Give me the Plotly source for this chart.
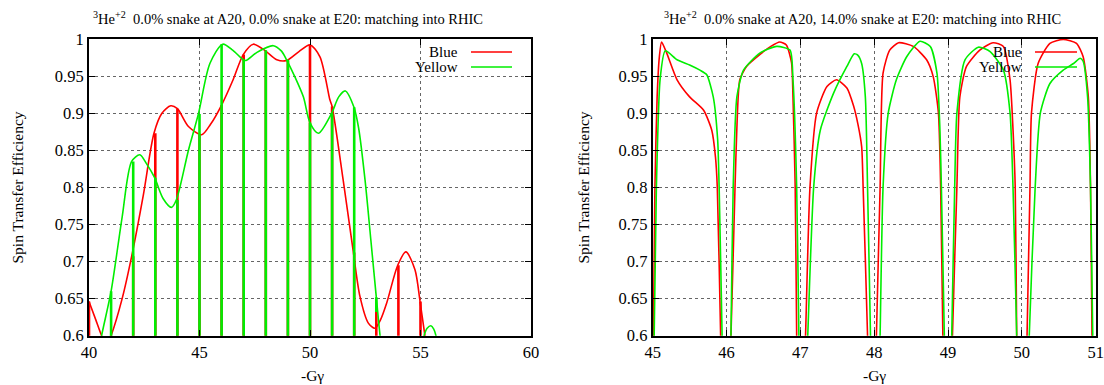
import plotly.graph_objects as go

W, H = 1104, 385

# ---------------- data: left panel (0.0% / 0.0%) ----------------
left_blue_x = [40.0, 40.3, 40.57, 40.8, 41.0, 41.5, 41.93, 42.46, 42.94, 43.3, 43.7, 44.0, 44.5, 45.1,
               45.5, 46.0, 46.52, 46.98, 47.43, 47.98, 48.5, 48.94, 49.5, 50.0, 50.45, 50.9, 51.0,
               51.5, 51.95, 52.26, 52.64, 52.94, 53.2, 53.47, 53.97, 54.34, 54.75, 54.98, 55.2, 55.3]
left_blue_y = [0.646, 0.622, 0.600, 0.586, 0.600, 0.650, 0.707, 0.790, 0.873, 0.900, 0.910, 0.906, 0.882, 0.871,
               0.885, 0.911, 0.945, 0.979, 0.993, 0.984, 0.972, 0.971, 0.983, 0.992, 0.976, 0.918, 0.909,
               0.810, 0.715, 0.653, 0.617, 0.610, 0.622, 0.644, 0.695, 0.713, 0.689, 0.646, 0.600, 0.580]
left_blue_spike_x = [40, 41, 42, 43, 44, 45, 46, 47, 48, 49, 50, 51, 52, 53, 54, 55]
left_blue_spike_top = [0.646, 0.600, 0.707, 0.873, 0.906, 0.871, 0.911, 0.979, 0.984, 0.971, 0.992, 0.909,
                       0.712, 0.632, 0.695, 0.646]

left_yellow_x = [40.4, 40.57, 41.0, 41.5, 41.93, 42.3, 42.6, 42.97, 43.35, 43.73, 43.95, 44.5, 44.95,
                 45.47, 46.05, 46.5, 46.98, 47.1, 47.6, 48.34, 48.7, 48.94, 49.3, 49.7, 50.0, 50.38,
                 50.98, 51.3, 51.6, 51.99, 52.2, 52.49, 52.75, 53.0, 53.17, 53.3,
                 None, 55.05, 55.16, 55.3, 55.47, 55.6, 55.7, 55.8]
left_yellow_y = [0.570, 0.600, 0.660, 0.760, 0.835, 0.844, 0.832, 0.813, 0.785, 0.773, 0.783, 0.850, 0.899,
                 0.967, 0.993, 0.985, 0.972, 0.971, 0.982, 0.991, 0.984, 0.972, 0.950, 0.922, 0.887, 0.873,
                 0.900, 0.922, 0.930, 0.908, 0.880, 0.810, 0.730, 0.652, 0.600, 0.570,
                 None, 0.580, 0.600, 0.610, 0.6135, 0.609, 0.600, 0.580]
left_yellow_spike_x = [41, 42, 43, 44, 45, 46, 47, 48, 49, 50, 51, 52, 53]
left_yellow_spike_top = [0.660, 0.835, 0.813, 0.783, 0.899, 0.993, 0.972, 0.985, 0.972, 0.887, 0.900, 0.908, 0.652]
left_yellow_spike_bottom = [0.55, 0.55, 0.55, 0.55, 0.55, 0.55, 0.55, 0.55, 0.55, 0.55, 0.55, 0.55, 0.632]

# ---------------- data: right panel (0.0% / 14.0%) ----------------
right_blue_x = [45.0, 45.01, 45.03, 45.06, 45.09, 45.12, 45.19, 45.33, 45.5, 45.69, 45.8, 45.85, 45.875, 45.92, 45.93,
                None, 46.04, 46.06, 46.115, 46.14, 46.18, 46.27, 46.45, 46.6, 46.72, 46.81, 46.88, 46.9, 46.93, 46.95, 46.96,
                None, 47.05, 47.07, 47.13, 47.22, 47.36, 47.49, 47.63, 47.72, 47.78, 47.83, 47.85, 47.91, 47.92,
                None, 48.02, 48.03, 48.08, 48.12, 48.21, 48.33, 48.53, 48.71, 48.8, 48.87, 48.9, 48.93, 48.94,
                None, 49.05, 49.06, 49.12, 49.16, 49.25, 49.43, 49.61, 49.75, 49.84, 49.88, 49.91, 49.93, 49.94,
                None, 50.06, 50.07, 50.11, 50.13, 50.22, 50.38, 50.56, 50.74, 50.83, 50.9, 50.93, 50.95, 50.96]
right_blue_y = [0.55, 0.60, 0.80, 0.922, 0.976, 0.996, 0.981, 0.945, 0.922, 0.904, 0.877, 0.841, 0.80, 0.60, 0.55,
                None, 0.55, 0.60, 0.80, 0.88, 0.945, 0.963, 0.979, 0.99, 0.996, 0.992, 0.968, 0.922, 0.80, 0.60, 0.55,
                None, 0.55, 0.60, 0.80, 0.90, 0.936, 0.945, 0.934, 0.91, 0.885, 0.855, 0.80, 0.60, 0.55,
                None, 0.55, 0.60, 0.80, 0.954, 0.985, 0.995, 0.99, 0.972, 0.949, 0.90, 0.80, 0.60, 0.55,
                None, 0.55, 0.60, 0.80, 0.922, 0.963, 0.985, 0.995, 0.99, 0.945, 0.878, 0.80, 0.60, 0.55,
                None, 0.55, 0.60, 0.80, 0.90, 0.967, 0.994, 0.9995, 0.994, 0.976, 0.922, 0.80, 0.60, 0.55]

right_yellow_x = [45.0, 45.02, 45.05, 45.1, 45.17, 45.33, 45.5, 45.64, 45.73, 45.82, 45.88, 45.9, 45.94, 45.95,
                  None, 46.05, 46.06, 46.09, 46.14, 46.23, 46.45, 46.68, 46.86, 46.9, 46.95, 46.98, 46.99,
                  None, 47.08, 47.1, 47.18, 47.27, 47.45, 47.63, 47.73, 47.78, 47.83, 47.88, 47.91, 47.95, 47.96,
                  None, 48.07, 48.08, 48.12, 48.19, 48.3, 48.44, 48.62, 48.76, 48.85, 48.89, 48.91, 48.95, 48.96,
                  None, 49.04, 49.05, 49.09, 49.12, 49.23, 49.41, 49.57, 49.75, 49.84, 49.88, 49.93, 49.94,
                  None, 50.09, 50.1, 50.18, 50.25, 50.38, 50.56, 50.7, 50.79, 50.83, 50.89, 50.93, 50.96, 50.97]
right_yellow_y = [0.55, 0.60, 0.80, 0.945, 0.984, 0.972, 0.965, 0.958, 0.952, 0.922, 0.864, 0.80, 0.60, 0.55,
                  None, 0.55, 0.60, 0.80, 0.922, 0.958, 0.981, 0.99, 0.985, 0.945, 0.80, 0.60, 0.55,
                  None, 0.55, 0.60, 0.80, 0.877, 0.927, 0.963, 0.98, 0.978, 0.967, 0.922, 0.80, 0.60, 0.55,
                  None, 0.55, 0.60, 0.80, 0.90, 0.945, 0.976, 0.997, 0.99, 0.954, 0.878, 0.80, 0.60, 0.55,
                  None, 0.55, 0.60, 0.80, 0.90, 0.972, 0.989, 0.983, 0.958, 0.90, 0.80, 0.60, 0.55,
                  None, 0.55, 0.60, 0.80, 0.90, 0.94, 0.958, 0.967, 0.974, 0.97, 0.922, 0.80, 0.60, 0.55]

# ---------------- ticks / labels ----------------
y_ticks = [0.6, 0.65, 0.7, 0.75, 0.8, 0.85, 0.9, 0.95, 1.0]
y_tick_text = ["0.6", "0.65", "0.7", "0.75", "0.8", "0.85", "0.9", "0.95", "1"]
left_x_ticks = [40, 45, 50, 55, 60]
right_x_ticks = [45, 46, 47, 48, 49, 50, 51]
series_names = ["Blue", "Yellow"]
series_colors = ["#ff0000", "#00ee00"]
left_title = "<sup>3</sup>He<sup>+2</sup>  0.0% snake at A20, 0.0% snake at E20: matching into RHIC"
right_title = "<sup>3</sup>He<sup>+2</sup>  0.0% snake at A20, 14.0% snake at E20: matching into RHIC"
y_label = "Spin Transfer Efficiency"
x_label = "-Gγ"

FONT = "Liberation Serif"


def px(x):
    return x / W


def py(y):
    return 1 - y / H


def spikes(xs, tops, bottoms=None):
    sx, sy = [], []
    for i, (x, t) in enumerate(zip(xs, tops)):
        b = bottoms[i] if bottoms else 0.55
        sx += [x, x, None]
        sy += [t, b, None]
    return sx, sy


fig = go.Figure()

# left panel
fig.add_trace(go.Scatter(x=left_blue_x, y=left_blue_y, mode="lines", xaxis="x", yaxis="y",
                         line=dict(color=series_colors[0], width=1.6, shape="spline", smoothing=0.8),
                         showlegend=False))
sx, sy = spikes(left_blue_spike_x, left_blue_spike_top)
fig.add_trace(go.Scatter(x=sx, y=sy, mode="lines", xaxis="x", yaxis="y",
                         line=dict(color=series_colors[0], width=2.6), showlegend=False))
fig.add_trace(go.Scatter(x=left_yellow_x, y=left_yellow_y, mode="lines", xaxis="x", yaxis="y",
                         line=dict(color=series_colors[1], width=1.6, shape="spline", smoothing=0.8),
                         showlegend=False))
sx, sy = spikes(left_yellow_spike_x, left_yellow_spike_top, left_yellow_spike_bottom)
fig.add_trace(go.Scatter(x=sx, y=sy, mode="lines", xaxis="x", yaxis="y",
                         line=dict(color=series_colors[1], width=2.6), showlegend=False))

# right panel
fig.add_trace(go.Scatter(x=right_blue_x, y=right_blue_y, mode="lines", xaxis="x2", yaxis="y2",
                         line=dict(color=series_colors[0], width=1.6, shape="spline", smoothing=0.6),
                         showlegend=False))
fig.add_trace(go.Scatter(x=right_yellow_x, y=right_yellow_y, mode="lines", xaxis="x2", yaxis="y2",
                         line=dict(color=series_colors[1], width=1.6, shape="spline", smoothing=0.6),
                         showlegend=False))

plot_top, plot_bot = 39, 335.7
left_l, left_r = 89, 531
right_l, right_r = 652.7, 1095.7

common_axis = dict(showline=True, linecolor="black", linewidth=2, mirror="ticks", ticks="inside",
                   ticklen=6, tickwidth=1, tickcolor="black", showgrid=True, gridcolor="#666666",
                   griddash="dot", gridwidth=1, zeroline=False, automargin=False,
                   tickfont=dict(family=FONT, size=16.5, color="black"))

fig.update_layout(
    template="none",
    width=W, height=H, margin=dict(l=0, r=0, t=0, b=0, pad=0, autoexpand=False),
    paper_bgcolor="white", plot_bgcolor="white", showlegend=False,
    xaxis=dict(domain=[px(left_l), px(left_r)], range=[40, 60], tickvals=left_x_ticks,
               anchor="y", **common_axis),
    yaxis=dict(domain=[py(plot_bot), py(plot_top)], range=[0.6, 1.0], tickvals=y_ticks,
               ticktext=y_tick_text, anchor="x", **common_axis),
    xaxis2=dict(domain=[px(right_l), px(right_r)], range=[45, 51], tickvals=right_x_ticks,
                anchor="y2", **common_axis),
    yaxis2=dict(domain=[py(plot_bot), py(plot_top)], range=[0.6, 1.0], tickvals=y_ticks,
                ticktext=y_tick_text, anchor="x2", **common_axis),
)

annotations = []
shapes = []
tfont = dict(family=FONT, size=14.5, color="black")
afont = dict(family=FONT, size=15.5, color="black")
lfont = dict(family=FONT, size=15, color="black")
for cx, title in [(288, left_title), (862, right_title)]:
    annotations.append(dict(x=px(cx), y=py(18), xref="paper", yref="paper", text=title,
                            showarrow=False, xanchor="center", yanchor="middle", font=tfont))
for lx in [17, 583]:
    annotations.append(dict(x=px(lx), y=py(187.5), xref="paper", yref="paper", text=y_label,
                            textangle=-90, showarrow=False, xanchor="center", yanchor="middle", font=afont))
for cx in [312, 874]:
    annotations.append(dict(x=px(cx), y=py(375), xref="paper", yref="paper", text=x_label,
                            showarrow=False, xanchor="center", yanchor="middle", font=afont))

# legends
for text_r, l0, l1 in [(460, 471, 512), (1024, 1035, 1077)]:
    for i, (name, col) in enumerate(zip(series_names, series_colors)):
        yy = 52 + 15 * i
        annotations.append(dict(x=px(text_r), y=py(yy), xref="paper", yref="paper", text=name,
                                showarrow=False, xanchor="right", yanchor="middle", font=lfont))
        shapes.append(dict(type="line", xref="paper", yref="paper", x0=px(l0), x1=px(l1),
                           y0=py(yy), y1=py(yy), line=dict(color=col, width=1.6)))

fig.update_layout(annotations=annotations, shapes=shapes)
fig.write_html("out.html", config={"displayModeBar": False},
               post_script="document.body.style.margin='0';document.body.style.padding='0';"
                           "document.body.style.overflow='hidden';")
